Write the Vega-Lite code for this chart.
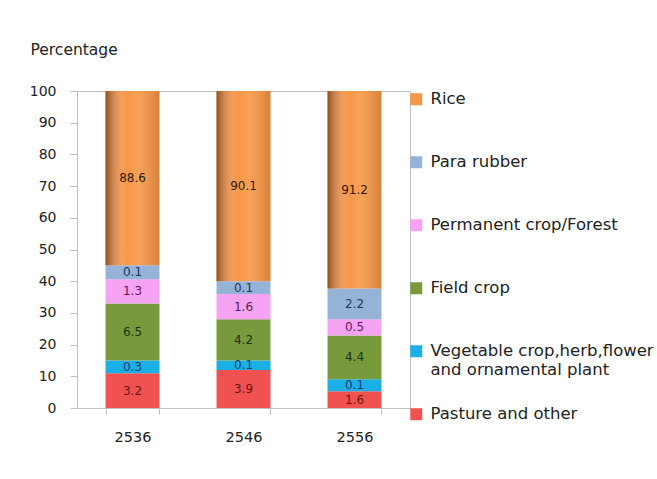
{
  "$schema": "https://vega.github.io/schema/vega-lite/v6.json",
  "width": 333,
  "height": 317,
  "autosize": "none",
  "padding": {"left": 77, "top": 91, "right": 247, "bottom": 71},
  "background": "white",
  "data": {
    "values": [
      {"year": "2536", "category": "Pasture and other", "rank": 1, "share": 11, "label": "3.2"},
      {"year": "2536", "category": "Vegetable crop,herb,flower and ornamental plant", "rank": 2, "share": 4, "label": "0.3"},
      {"year": "2536", "category": "Field crop", "rank": 3, "share": 18, "label": "6.5"},
      {"year": "2536", "category": "Permanent crop/Forest", "rank": 4, "share": 7.6, "label": "1.3"},
      {"year": "2536", "category": "Para rubber", "rank": 5, "share": 4.4, "label": "0.1"},
      {"year": "2536", "category": "Rice", "rank": 6, "share": 55, "label": "88.6"},
      {"year": "2546", "category": "Pasture and other", "rank": 1, "share": 12, "label": "3.9"},
      {"year": "2546", "category": "Vegetable crop,herb,flower and ornamental plant", "rank": 2, "share": 3, "label": "0.1"},
      {"year": "2546", "category": "Field crop", "rank": 3, "share": 13, "label": "4.2"},
      {"year": "2546", "category": "Permanent crop/Forest", "rank": 4, "share": 8, "label": "1.6"},
      {"year": "2546", "category": "Para rubber", "rank": 5, "share": 4, "label": "0.1"},
      {"year": "2546", "category": "Rice", "rank": 6, "share": 60, "label": "90.1"},
      {"year": "2556", "category": "Pasture and other", "rank": 1, "share": 5.3, "label": "1.6"},
      {"year": "2556", "category": "Vegetable crop,herb,flower and ornamental plant", "rank": 2, "share": 3.8, "label": "0.1"},
      {"year": "2556", "category": "Field crop", "rank": 3, "share": 13.8, "label": "4.4"},
      {"year": "2556", "category": "Permanent crop/Forest", "rank": 4, "share": 5.1, "label": "0.5"},
      {"year": "2556", "category": "Para rubber", "rank": 5, "share": 9.7, "label": "2.2"},
      {"year": "2556", "category": "Rice", "rank": 6, "share": 62.3, "label": "91.2"}
    ]
  },
  "encoding": {
    "x": {
      "field": "year",
      "type": "ordinal",
      "scale": {"paddingInner": 0.514, "paddingOuter": 0.257},
      "axis": {
        "title": null,
        "labelAngle": 0,
        "labelFont": "DejaVu Sans",
        "labelFontSize": 14.5,
        "labelColor": "#222222",
        "labelPadding": 16,
        "tickBand": "extent",
        "tickSize": 6,
        "tickColor": "#BFBFBF",
        "domainColor": "#BFBFBF"
      }
    },
    "y": {
      "field": "share",
      "type": "quantitative",
      "stack": "zero",
      "scale": {"domain": [0, 100], "nice": false},
      "axis": {
        "title": "Percentage",
        "titleAngle": 0,
        "titleAlign": "left",
        "titleBaseline": "middle",
        "titleX": -47,
        "titleY": -42,
        "titleFont": "DejaVu Sans",
        "titleFontSize": 15.5,
        "titleFontWeight": "normal",
        "titleColor": "#222222",
        "values": [0, 10, 20, 30, 40, 50, 60, 70, 80, 90, 100],
        "grid": false,
        "labelFont": "DejaVu Sans",
        "labelFontSize": 14,
        "labelColor": "#222222",
        "labelPadding": 14,
        "tickSize": 7,
        "tickColor": "#BFBFBF",
        "domainColor": "#BFBFBF"
      }
    },
    "order": {"field": "rank", "type": "quantitative"}
  },
  "layer": [
    {
      "mark": {"type": "bar"},
      "encoding": {
        "color": {
          "field": "category",
          "type": "nominal",
          "scale": {
            "domain": ["Rice", "Para rubber", "Permanent crop/Forest", "Field crop", "Vegetable crop,herb,flower and ornamental plant", "Pasture and other"],
            "range": ["#F79646", "#95B3D7", "#F5A3F2", "#789A3C", "#1AAFE6", "#F05252"]
          },
          "legend": {
            "title": null,
            "orient": "right",
            "offset": -2,
            "padding": 0,
            "symbolType": "square",
            "symbolSize": 144,
            "symbolStrokeWidth": 0,
            "labelFont": "DejaVu Sans",
            "labelFontSize": 16.5,
            "labelColor": "#222222",
            "labelOffset": 6,
            "labelLimit": 400,
            "rowPadding": 27,
            "labelExpr": "datum.label == 'Vegetable crop,herb,flower and ornamental plant' ? ['Vegetable crop,herb,flower', 'and ornamental plant'] : [datum.label, ' ']"
          }
        }
      }
    },
    {
      "mark": {
        "type": "bar",
        "fill": {
          "gradient": "linear",
          "x1": 0, "x2": 1, "y1": 0, "y2": 0,
          "stops": [
            {"offset": 0, "color": "rgba(70,30,5,0.6)"},
            {"offset": 0.4, "color": "rgba(255,255,255,0)"},
            {"offset": 0.62, "color": "rgba(255,230,200,0.15)"},
            {"offset": 1, "color": "rgba(90,40,5,0.2)"}
          ]
        }
      },
      "encoding": {
        "detail": {"field": "category"},
        "opacity": {
          "condition": {"test": "datum.category === 'Rice'", "value": 1},
          "value": 0
        }
      }
    },
    {
      "mark": {"type": "text", "font": "DejaVu Sans", "fontSize": 12, "baseline": "middle"},
      "encoding": {
        "y": {"field": "share", "type": "quantitative", "stack": "zero", "bandPosition": 0.5},
        "text": {"field": "label"},
        "detail": {"field": "category"},
        "color": {
          "field": "category",
          "type": "nominal",
          "scale": {
            "domain": ["Rice", "Para rubber", "Permanent crop/Forest", "Field crop", "Vegetable crop,herb,flower and ornamental plant", "Pasture and other"],
            "range": ["#2a1a0a", "#1F3560", "#5A1A5A", "#22320C", "#123D6E", "#6B1515"]
          },
          "legend": null
        }
      }
    }
  ],
  "resolve": {"scale": {"color": "independent"}},
  "config": {
    "view": {"stroke": "#BFBFBF", "strokeWidth": 1}
  }
}
